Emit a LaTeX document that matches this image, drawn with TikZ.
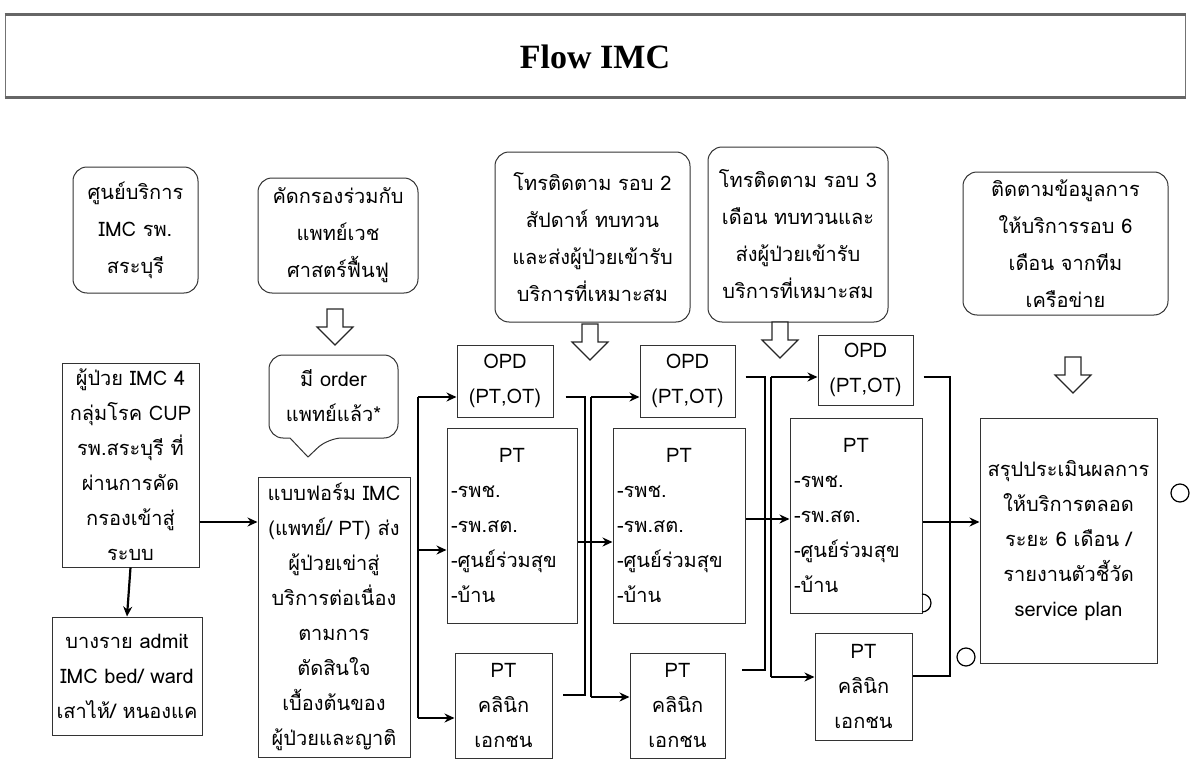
\documentclass[tikz,border=0pt]{standalone}
\usepackage{fontspec}
\newfontfamily\thai[Script=Thai]{Loma}
\newfontfamily\titlefont{Liberation Serif}
\usetikzlibrary{arrows.meta}
\newcommand\pbox[7]{\node[#6, minimum width={(#4-#2)*0.5pt}, minimum height={(#5-#3)*0.5pt}] (#1) at ({(#2+#4)/2},{(#3+#5)/2}) {#7};}
\begin{document}
\begin{tikzpicture}[x=0.5pt,y=-0.5pt,
  txt/.style={font=\thai\fontsize{10}{17.5}\selectfont, align=center, inner sep=0pt},
  sqbox/.style={txt, draw=black!80, line width=0.5pt},
  rbox/.style={sqbox, rounded corners=7pt, font=\thai\fontsize{10}{18.5}\selectfont},
  ptbox/.style={sqbox, align=left},
  conn/.style={line width=1.1pt, black},
  arr/.style={conn, -{Stealth[length=5pt,width=4.5pt]}},
  hollow/.style={draw=black!85, line width=0.6pt, fill=white},
  barrow/.pic={\draw[hollow] (-8,0) -- (8,0) -- (8,18) -- (18,18) -- (0,36) -- (-18,18) -- (-8,18) -- cycle;}
]
\useasboundingbox (0,0) rectangle (1191,760);
% title
\pbox{tbox}{5}{15}{1185}{97}{draw=black!55, line width=0.5pt}{}
\draw[black!60, line width=1.4pt] (tbox.north west) -- (tbox.north east);
\draw[black!60, line width=1.4pt] (tbox.south west) -- (tbox.south east);
\node[font=\titlefont\bfseries\fontsize{17}{20}\selectfont] (title) at (595,57) {Flow IMC};
% top rounded boxes
\pbox{a}{73}{167}{198}{293}{rbox}{ศูนย์บริการ\\IMC รพ.\\สระบุรี}
\pbox{b}{258}{178}{418}{293}{rbox}{คัดกรองร่วมกับ\\แพทย์เวช\\ศาสตร์ฟื้นฟู}
\pbox{c}{495}{152}{690}{322}{rbox}{โทรติดตาม รอบ 2\\สัปดาห์ ทบทวน\\และส่งผู้ป่วยเข้ารับ\\บริการที่เหมาะสม}
\pbox{d}{708}{147}{888}{322}{rbox}{โทรติดตาม รอบ 3\\เดือน ทบทวนและ\\ส่งผู้ป่วยเข้ารับ\\บริการที่เหมาะสม}
\pbox{e}{963}{172}{1168}{315}{rbox}{ติดตามข้อมูลการ\\ให้บริการรอบ 6\\เดือน จากทีม\\เครือข่าย}
% block arrows
\pic at (335,309) {barrow};
\pic at (590,324) {barrow};
\pic at (780,322) {barrow};
\pic at (1073,357) {barrow};
% left column
\pbox{l1}{62}{363}{199}{567}{sqbox}{ผู้ป่วย IMC 4\\กลุ่มโรค CUP\\รพ.สระบุรี ที่\\ผ่านการคัด\\กรองเข้าสู่\\ระบบ}
\pbox{l2}{52}{617}{202}{735}{sqbox}{บางราย admit\\IMC bed/ ward\\เสาไห้/ หนองแค}
% callout
\node[txt] (m) at (333.5,396) {มี order\\แพทย์แล้ว*};
\draw[draw=black!80, line width=0.5pt, rounded corners=7pt] (269,355) -- (398,355) -- (398,438) -- (328,438) [sharp corners] -- (308,457) -- (290,438) [rounded corners=7pt] -- (269,438) -- cycle;
\pbox{f}{258}{477}{410}{757}{sqbox}{แบบฟอร์ม IMC\\(แพทย์/ PT) ส่ง\\ผู้ป่วยเข่าสู่\\บริการต่อเนื่อง\\ตามการ\\ตัดสินใจ\\เบื้องต้นของ\\ผู้ป่วยและญาติ}
% column 1
\pbox{opd1}{457}{345}{553}{417}{sqbox}{OPD\\(PT,OT)}
\pbox{pt1}{447}{428}{577}{623}{ptbox, text width=61pt}{\makebox[\linewidth]{PT}\\-รพช.\\-รพ.สต.\\-ศูนย์ร่วมสุข\\-บ้าน}
\pbox{cl1}{455}{653}{552}{758}{sqbox}{PT\\คลินิก\\เอกชน}
% column 2
\pbox{opd2}{640}{345}{735}{417}{sqbox}{OPD\\(PT,OT)}
\pbox{pt2}{613}{428}{745}{623}{ptbox, text width=62pt}{\makebox[\linewidth]{PT}\\-รพช.\\-รพ.สต.\\-ศูนย์ร่วมสุข\\-บ้าน}
\pbox{cl2}{630}{653}{725}{758}{sqbox}{PT\\คลินิก\\เอกชน}
% column 3
\pbox{opd3}{818}{335}{913}{405}{sqbox}{OPD\\(PT,OT)}
\pbox{pt3}{790}{418}{922}{613}{ptbox, text width=62pt}{\makebox[\linewidth]{PT}\\-รพช.\\-รพ.สต.\\-ศูนย์ร่วมสุข\\-บ้าน}
\pbox{cl3}{815}{633}{912}{740}{sqbox}{PT\\คลินิก\\เอกชน}
% summary
\pbox{s}{980}{418}{1157}{663}{sqbox}{สรุปประเมินผลการ\\ให้บริการตลอด\\ระยะ 6 เดือน /\\รายงานตัวชี้วัด\\service plan}
% connectors: left
\draw[arr] (l1.south) -- (l2.north);
\coordinate (y520) at (0,522);
\draw[arr] (l1.east |- y520) -- (f.west |- y520);
% column 1 bracket
\coordinate (b1t) at (418,397);
\coordinate (b1m) at (418,550);
\coordinate (b1b) at (418,718);
\draw[conn] (b1t) -- (b1b);
\draw[arr] (b1t) -- (b1t -| opd1.west);
\draw[arr] (b1m) -- (b1m -| pt1.west);
\draw[arr] (b1b) -- (b1b -| cl1.west);
% column 1 -> 2
\coordinate (m1t) at (585,397);
\coordinate (m1b) at (585,695);
\draw[conn, shorten <=6pt, shorten >=5pt] (opd1.east |- m1t) -- (m1t) -- (m1b) -- (cl1.east |- m1b);
\coordinate (s1t) at (591,397);
\coordinate (s1b) at (591,697);
\draw[conn] (s1t) -- (s1b);
\draw[arr] (s1t) -- (s1t -| opd2.west);
\draw[arr] (s1b) -- (s1b -| cl2.west);
\coordinate (y542) at (0,542);
\draw[arr] (pt1.east |- y542) -- (pt2.west |- y542);
% column 2 -> 3
\coordinate (m2t) at (765,377);
\coordinate (m2b) at (765,670);
\draw[conn, shorten <=5pt, shorten >=8pt] (opd2.east |- m2t) -- (m2t) -- (m2b) -- (cl2.east |- m2b);
\coordinate (s2t) at (771,377);
\coordinate (s2b) at (771,677);
\draw[conn] (s2t) -- (s2b);
\draw[arr] (s2t) -- (s2t -| opd3.west);
\draw[arr] (s2b) -- (s2b -| cl3.west);
\coordinate (y519) at (0,519);
\draw[arr] (pt2.east |- y519) -- (pt3.west |- y519);
% column 3 -> summary
\coordinate (m3t) at (950,377);
\coordinate (m3b) at (950,676);
\draw[conn, shorten <=5pt] (opd3.east |- m3t) -- (m3t) -- (m3b) -- (cl3.east |- m3b);
\coordinate (y522) at (0,522);
\draw[arr] (pt3.east |- y522) -- (s.west |- y522);
% small circles
\draw[line width=0.6pt] (1180,493) circle[radius=9];
\draw[line width=0.6pt] (966,657) circle[radius=9];
\draw[line width=0.6pt] (922,594) arc[start angle=-90, end angle=90, radius=9];
\end{tikzpicture}
\end{document}
